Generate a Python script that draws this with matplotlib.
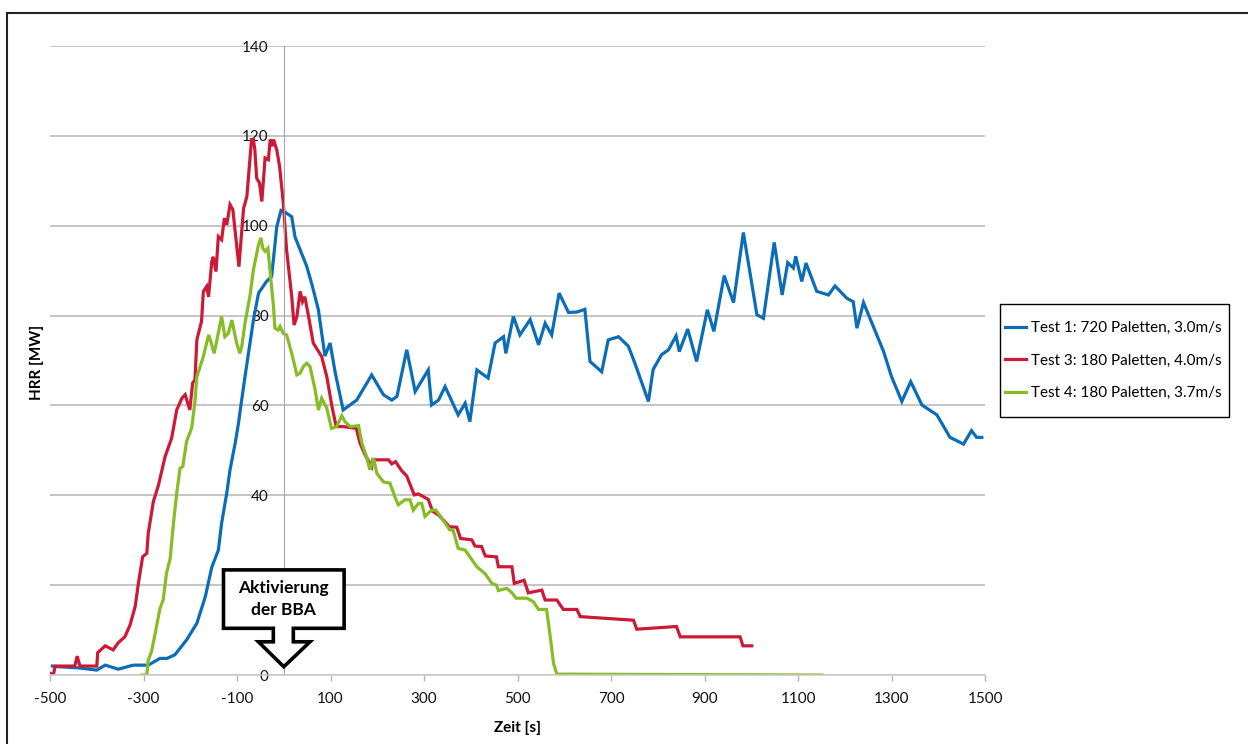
import matplotlib
matplotlib.use("Agg")
import matplotlib.pyplot as plt
from matplotlib.patches import Polygon, Rectangle

plt.rcParams['font.family'] = ['Lato', 'DejaVu Sans']
plt.rcParams['axes.unicode_minus'] = False

# Test 1: 720 pallets, 3.0 m/s
t1_time = [-495, -489, -440, -400, -382, -354, -322, -290, -265, -250, -233, -208, -186, -168,
           -154, -140, -133, -122, -115, -104, -97, -92, -83, -65, -54, -37, -26, -15, -6, 3,
           17, 24, 49, 60, 74, 88, 99, 110, 127, 156, 188, 213, 231, 242, 263, 281, 309, 316,
           331, 345, 373, 388, 398, 413, 437, 452, 470, 475, 491, 505, 527, 545, 559, 573, 589,
           609, 627, 644, 655, 680, 694, 716, 737, 751, 780, 790, 808, 823, 839, 846, 864, 883,
           906, 920, 942, 962, 983, 1012, 1026, 1049, 1066, 1078, 1090, 1095, 1108, 1117, 1140,
           1165, 1179, 1204, 1218, 1226, 1240, 1283, 1300, 1322, 1341, 1365, 1397, 1425, 1454,
           1471, 1482, 1493]
t1_hrr = [2.0, 1.9, 1.6, 1.1, 2.2, 1.3, 2.2, 2.2, 3.7, 3.7, 4.5, 7.8, 11.5, 17.4,
          24.0, 27.8, 33.8, 40.5, 45.7, 51.6, 56.0, 59.8, 66.4, 79.0, 85.0, 87.6, 88.7, 99.8, 103.4, 103.0,
          102.0, 97.5, 91.0, 87.0, 81.3, 71.0, 73.9, 67.3, 59.0, 61.2, 66.8, 62.4, 61.2, 62.0, 72.4, 63.1, 67.9, 60.1,
          61.2, 64.2, 57.9, 60.5, 56.4, 67.9, 66.1, 73.9, 75.3, 71.6, 79.8, 75.7, 79.1, 73.5, 78.3, 75.7, 85.0,
          80.7, 80.8, 81.4, 69.8, 67.5, 74.6, 75.3, 73.2, 69.4, 60.9, 68.0, 71.3, 72.4, 75.5, 72.0, 77.0, 69.8,
          81.3, 76.5, 88.9, 82.9, 98.5, 80.2, 79.4, 96.3, 84.6, 91.8, 90.6, 93.2, 87.6, 91.7, 85.4,
          84.6, 86.6, 83.9, 83.1, 77.2, 82.9, 72.0, 66.4, 60.9, 65.3, 60.1, 57.9, 52.9, 51.4,
          54.4, 52.9, 52.9]

# Test 3: 180 pallets, 4.0 m/s
t3_time = [-500, -493, -489, -447, -442, -436, -400, -398, -382, -365, -354, -340, -329, -318,
           -311, -302, -293, -290, -279, -268, -254, -240, -229, -218, -211, -201, -195, -190,
           -186, -176, -172, -165, -161, -154, -151, -145, -140, -133, -127, -122, -115, -109,
           -96, -86, -83, -79, -69, -65, -62, -58, -52, -47, -40, -33, -29, -24, -22, -15, -9,
           -1, 6, 17, 22, 28, 35, 40, 45, 53, 63, 81, 92, 103, 112, 127, 155, 163, 174, 188,
           190, 224, 231, 239, 252, 263, 279, 288, 309, 318, 331, 345, 354, 370, 378, 402, 409,
           423, 431, 455, 459, 488, 493, 514, 523, 552, 559, 584, 598, 627, 634, 748, 755, 840,
           848, 976, 982, 1001]
t3_hrr = [0.4, 0.0, 2.0, 2.0, 4.2, 2.0, 2.0, 5.0, 6.5, 5.6, 7.2, 8.5, 11.1, 15.2,
          20.4, 26.3, 27.1, 31.5, 38.6, 42.3, 48.6, 52.7, 59.0, 61.6, 62.4, 59.0, 65.0, 65.7,
          74.6, 78.7, 85.4, 86.5, 84.2, 92.0, 93.1, 89.8, 97.6, 96.9, 101.7, 100.2, 104.7, 103.6,
          90.9, 103.9, 105.0, 106.5, 119.2, 119.2, 117.0, 110.6, 109.5, 105.4, 115.1, 114.7, 119.2, 117.7, 119.2, 116.9, 113.2,
          105.0, 94.6, 84.2, 77.9, 79.8, 85.4, 83.1, 84.2, 79.8, 73.9, 70.9, 66.4, 59.8, 55.3, 55.3, 54.9, 51.6, 49.0, 46.4,
          47.9, 47.9, 47.0, 47.5, 45.5, 44.3, 40.1, 40.3, 39.1, 36.5, 35.6, 34.1, 33.0, 32.9, 30.4, 30.1, 28.7,
          28.6, 26.5, 26.3, 24.1, 24.1, 20.4, 21.1, 18.3, 18.9, 16.7, 16.7, 14.6, 14.6, 13.0, 12.2, 10.2, 10.8,
          8.5, 8.5, 6.5, 6.5]

# Test 4: 180 pallets, 3.7 m/s
t4_time = [-304, -293, -290, -283, -275, -265, -258, -251, -243, -236, -229, -222, -216, -208,
           -197, -190, -186, -172, -161, -156, -149, -143, -133, -126, -119, -111, -101, -94,
           -90, -83, -72, -65, -54, -49, -45, -40, -34, -29, -22, -19, -12, -8, -1, 6, 17, 28,
           35, 42, 49, 56, 67, 74, 81, 92, 102, 113, 124, 131, 142, 160, 167, 177, 184, 192,
           199, 213, 227, 239, 245, 259, 270, 277, 288, 295, 302, 316, 325, 338, 355, 362, 373,
           388, 398, 413, 431, 445, 455, 459, 477, 488, 497, 520, 534, 545, 562, 569, 577, 584,
           1151]
t4_hrr = [0.0, 0.0, 3.3, 5.2, 9.3, 14.8, 16.7, 22.6, 26.0, 33.8, 40.5, 46.0, 46.4, 52.0,
          55.0, 60.9, 66.4, 70.9, 75.7, 74.2, 71.6, 74.6, 79.8, 75.3, 76.0, 79.0, 73.9, 71.6,
          73.1, 78.3, 84.6, 90.2, 95.8, 97.3, 95.0, 94.3, 95.0, 89.5, 82.0, 77.2, 76.8, 77.6, 76.0, 75.7, 71.6, 66.8,
          67.2, 68.7, 69.4, 68.7, 63.5, 59.0, 61.6, 59.4, 54.9, 55.3, 57.7, 56.4, 55.3, 55.5, 51.6, 48.6, 45.7, 48.3,
          44.9, 43.0, 42.7, 39.3, 37.9, 39.0, 39.0, 36.7, 38.2, 38.2, 35.3, 36.7, 36.7, 34.9, 32.3, 32.3, 28.2,
          27.8, 26.3, 24.1, 22.5, 20.4, 20.0, 18.8, 19.3, 18.3, 17.1, 17.1, 16.3, 14.6, 14.6, 9.3, 2.6, 0.2,
          0.0]

series_labels = ['Test 1: 720 Paletten, 3.0m/s',
                 'Test 3: 180 Paletten, 4.0m/s',
                 'Test 4: 180 Paletten, 3.7m/s']
series_colors = ['#0b6db7', '#cc1a36', '#86bc25']

x_ticks = list(range(-500, 1501, 200))
y_ticks = list(range(0, 141, 20))
# the 20 label sits under the callout box, so it is left blank
y_ticklabels = ['' if v == 20 else str(v) for v in y_ticks]

fig = plt.figure(figsize=(12.48, 7.44), dpi=100)
ax = fig.add_axes([0.0401, 0.0927, 0.7492, 0.8454])

# thin outer frame around the chart area
fig.patches.append(Rectangle((7 / 1248, -0.1), 2.0, 1.1 - 12.7 / 744,
                             transform=fig.transFigure, fill=False,
                             edgecolor='#222222', linewidth=1.5))

for xs, ys, lab, col in zip([t1_time, t3_time, t4_time], [t1_hrr, t3_hrr, t4_hrr],
                            series_labels, series_colors):
    ax.plot(xs, ys, color=col, linewidth=2.3, label=lab, solid_joinstyle='miter')

ax.set_xlim(-500, 1500)
ax.set_ylim(0, 140)
ax.set_xticks(x_ticks)
ax.set_yticks(y_ticks)
ax.set_yticklabels(y_ticklabels)
ax.grid(axis='y', color='#b5b5b5', linewidth=1.1)
ax.set_axisbelow(True)

for side in ['top', 'right']:
    ax.spines[side].set_visible(False)
ax.spines['left'].set_position(('data', 0))
ax.spines['left'].set_color('#a6a6a6')
ax.spines['bottom'].set_color('#c8c8c8')
ax.spines['bottom'].set_linewidth(1.1)

ax.tick_params(axis='y', length=0, pad=11, labelsize=11, labelcolor='#111111')
ax.tick_params(axis='x', length=4, width=1, color='#b5b5b5', pad=8,
               labelsize=11, labelcolor='#111111')

ax.set_xlabel('Zeit [s]', fontsize=11, fontweight='bold', labelpad=11)
fig.text(37 / 1248, 1 - 362 / 744, 'HRR [MW]', rotation=90, ha='center', va='center',
         fontsize=11, fontweight='bold')

# down-arrow callout marking sprinkler activation at t = 0
callout = [(-129, 23.4), (129, 23.4), (129, 10.4), (20.4, 10.4), (20.4, 7.4), (56.1, 7.4),
           (0, 1.85), (-54.4, 7.4), (-22.4, 7.4), (-22.4, 10.4), (-129, 10.4)]
ax.add_patch(Polygon(callout, closed=True, facecolor='white', edgecolor='black',
                     linewidth=2.6, joinstyle='miter', zorder=5))
ax.text(0, 19.3, 'Aktivierung', ha='center', va='center', fontsize=12.5,
        fontweight='bold', zorder=6)
ax.text(0, 14.4, 'der BBA', ha='center', va='center', fontsize=12.5,
        fontweight='bold', zorder=6)

# legend entries without their own frame; the box is drawn separately so it
# can be taller than the entries need
ax.legend(loc='center left', bbox_to_anchor=(1000 / 1248, 1 - 360.7 / 744),
          bbox_transform=fig.transFigure, frameon=False, fontsize=11,
          handlelength=1.37, handletextpad=0.33, labelspacing=1.2,
          borderpad=0.33, borderaxespad=0)
fig.patches.append(Rectangle((1000 / 1248, 1 - 417.3 / 744), 228.7 / 1248, 113.3 / 744,
                             transform=fig.transFigure, fill=False,
                             edgecolor='black', linewidth=1.0))

fig.savefig('out.png', dpi=100)
